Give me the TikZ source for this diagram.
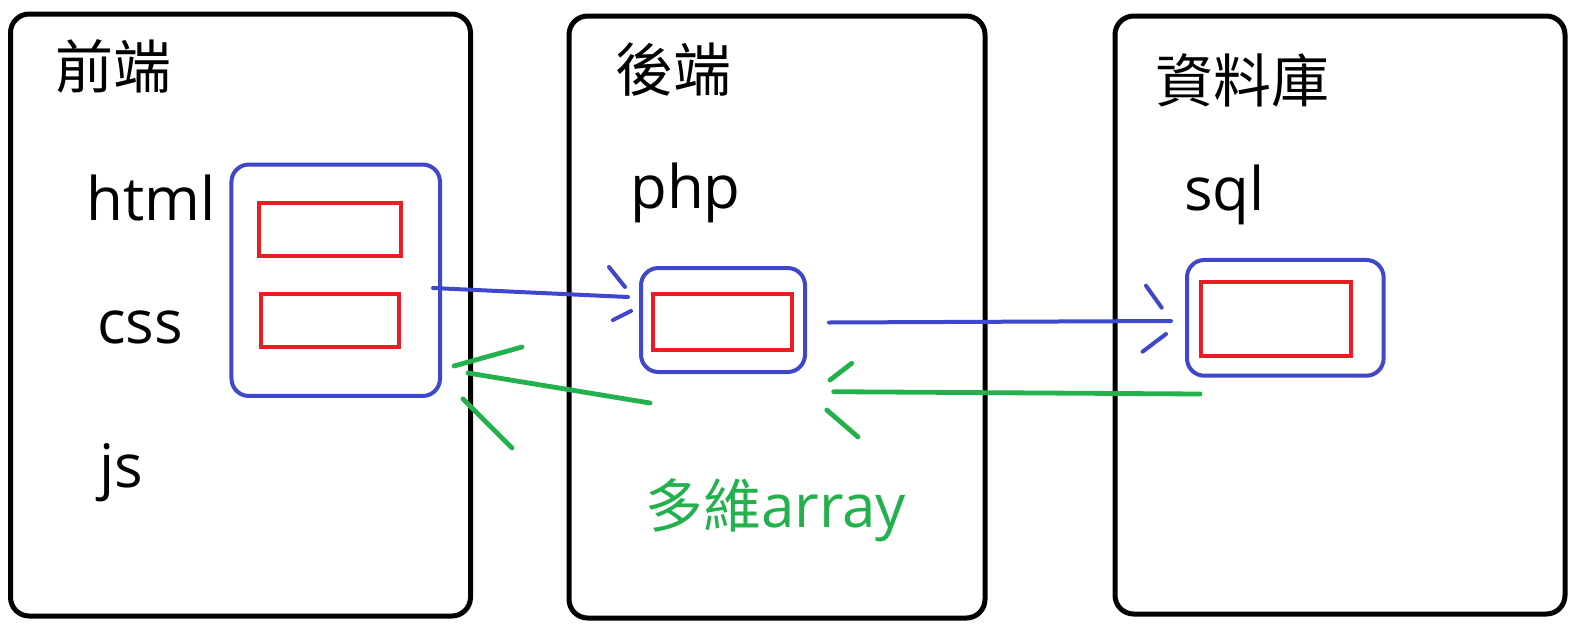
\documentclass[tikz,border=0pt]{standalone}
\usepackage{fontspec}
\setmainfont{Open Sans}
\newfontfamily\cjk{Noto Sans CJK TC}
\definecolor{pblue}{HTML}{3F48CC}
\definecolor{pred}{HTML}{ED1C24}
\definecolor{pgreen}{HTML}{22B14C}
\tikzset{
  tier/.style={draw=black, line width=3.75pt, rounded corners=14pt, inner sep=0pt},
  holder/.style={draw=pblue, line width=3pt, rounded corners=13pt, inner sep=0pt},
  item/.style={draw=pred, line width=3pt, inner sep=0pt},
  cjklabel/.style={inner sep=0pt, anchor=west, font=\cjk\fontsize{43.5pt}{50pt}\selectfont},
  latlabel/.style={inner sep=0pt, anchor=base west, font=\fontsize{45pt}{52pt}\selectfont},
  bluestroke/.style={draw=pblue, line width=3pt, line cap=round},
  greenstroke/.style={draw=pgreen, line width=3.6pt, line cap=round}
}
\begin{document}
\begin{tikzpicture}[x=0.75pt, y=-0.75pt]
\useasboundingbox[fill=white] (0,0) rectangle (1581,629);
% tiers
\node[tier, minimum width=345pt, minimum height=451.5pt] (front) at (240.5,315) {};
\node[tier, minimum width=312pt, minimum height=451.5pt] (back) at (777,317) {};
\node[tier, minimum width=337.5pt, minimum height=448.5pt] (db) at (1340,315) {};
% titles
\node[cjklabel] (tfront) at (55,66) {前端};
\node[cjklabel] (tback) at (615,70) {後端};
\node[cjklabel] (tdb) at (1155,80) {資料庫};
% labels
\node[latlabel] (html) at (86,220) {html};
\node[latlabel] (css) at (97,343) {css};
\node[latlabel] (js) at (99,487) {js};
\node[latlabel] (php) at (630,208.6) {php};
\node[latlabel] (sql) at (1184,210.6) {sql};
\node[latlabel, text=pgreen] (arr) at (645,527.5) {{\cjk\fontsize{43.5pt}{50pt}\selectfont 多維}array};
% containers
\node[holder, minimum width=156.4pt, minimum height=173.6pt] (b1) at (335.75,280.25) {};
\node[item, minimum width=106.5pt, minimum height=39.75pt] (r1) at (330,229) {};
\node[item, minimum width=103.5pt, minimum height=39.75pt] (r2) at (330,320.5) {};
\node[holder, minimum width=123pt, minimum height=78pt] (b2) at (723,320) {};
\node[item, minimum width=104.25pt, minimum height=42pt] (r3) at (722.5,322) {};
\node[holder, minimum width=147.45pt, minimum height=86.8pt] (b3) at (1285.3,317.85) {};
\node[item, minimum width=112.5pt, minimum height=55.5pt] (r4) at (1276,318.7) {};
% connector end points
\coordinate (a1s) at (433,288);
\coordinate (a1e) at (628,297);
\coordinate (a2s) at (829,322.5);
\coordinate (a2e) at (1171,321);
\coordinate (a3s) at (1200,394);
\coordinate (a3e) at (833.7,391.7);
\coordinate (a4s) at (650,403);
\coordinate (a4e) at (468,373);
% blue requests
\draw[bluestroke] (a1s) -- (a1e);
\draw[bluestroke] (609,267) -- (625,287);
\draw[bluestroke] (613,320) -- (631,311);
\draw[bluestroke] (a2s) -- (a2e);
\draw[bluestroke] (1146,285.7) -- (1161.7,307.7);
\draw[bluestroke] (1142.5,351.7) -- (1166,334);
% green responses
\draw[greenstroke] (a3s) -- (a3e);
\draw[greenstroke] (830,380) -- (851.7,363.3);
\draw[greenstroke] (826.8,410) -- (858,437);
\draw[greenstroke] (a4s) -- (a4e);
\draw[greenstroke] (454,366) -- (522,347);
\draw[greenstroke] (463,399) -- (512,448);
\end{tikzpicture}
\end{document}
